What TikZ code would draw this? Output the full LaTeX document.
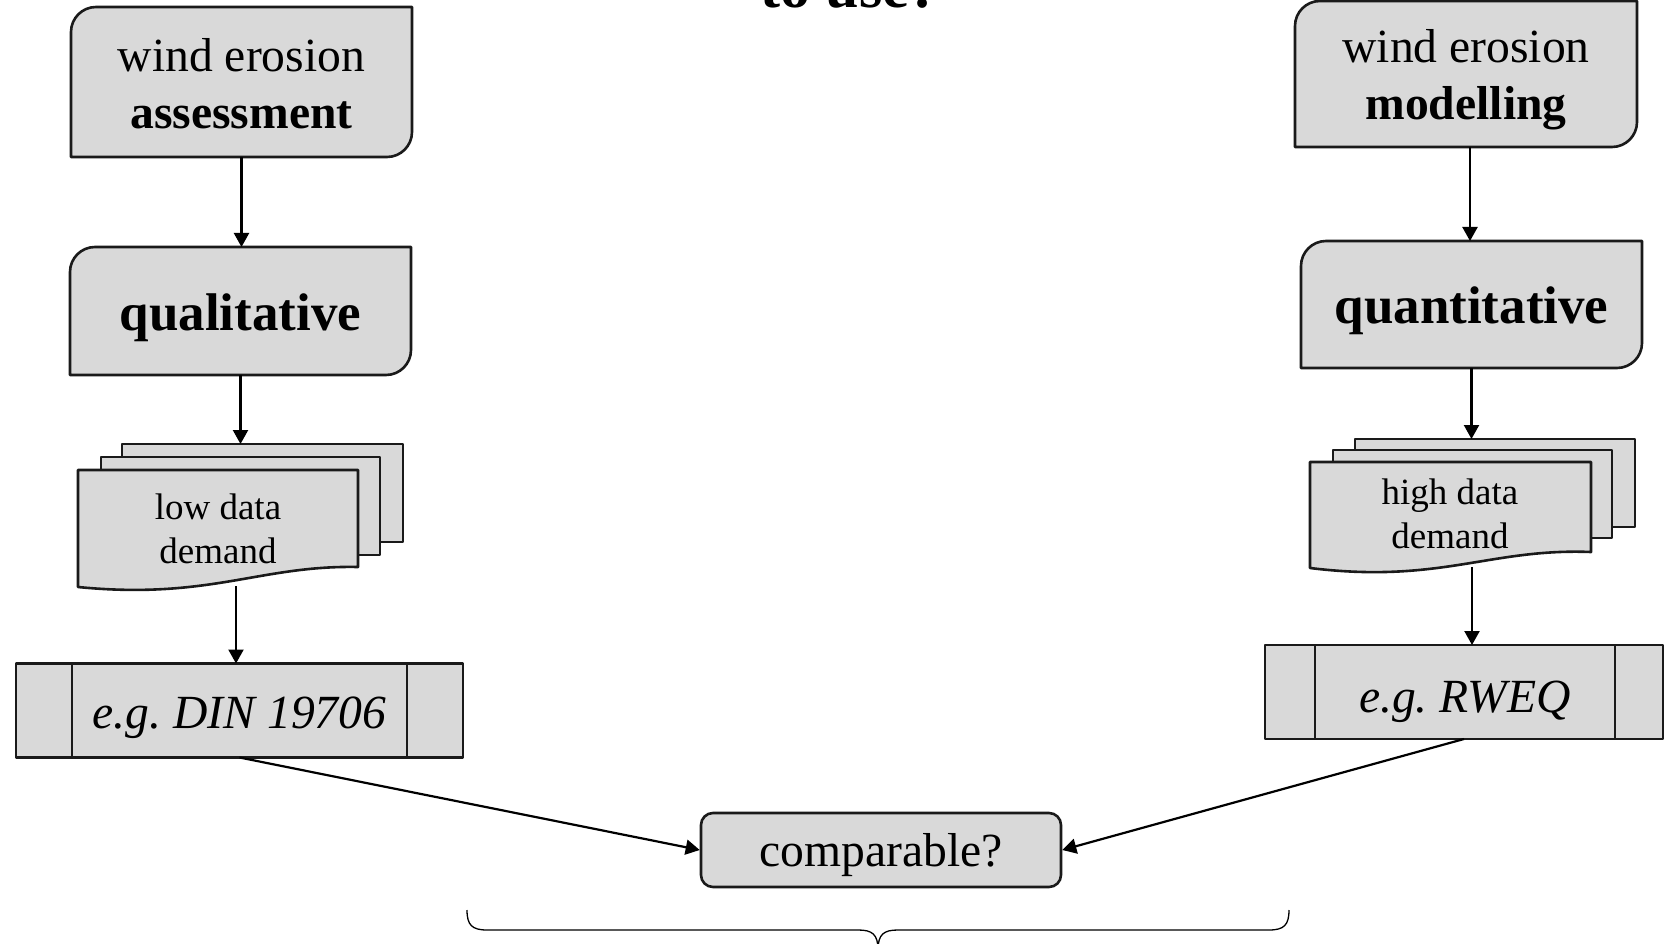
\documentclass[tikz,border=0pt]{standalone}
\usepackage{fontspec}
\setmainfont{Liberation Serif}
\usetikzlibrary{arrows.meta,calc}
\definecolor{boxgray}{HTML}{D9D9D9}
\definecolor{inkline}{HTML}{1A1A1A}
\newcommand\fs[2]{\fontsize{#1}{#2}\selectfont}
\newcommand\cardshape[2]{%
  \path[shp] (#1.south west) -- ($(#1.north west)+(0,#2)$)
    .. controls ($(#1.north west)+(0,0.448*#2)$) and ($(#1.north west)+(0.448*#2,0)$) .. ($(#1.north west)+(#2,0)$)
    -- (#1.north east) -- ($(#1.south east)+(0,-#2)$)
    .. controls ($(#1.south east)+(0,-0.448*#2)$) and ($(#1.south east)+(-0.448*#2,0)$) .. ($(#1.south east)+(-#2,0)$) -- cycle;}
\begin{document}
\begin{tikzpicture}[x=1pt,y=-1pt,
  shp/.style={draw=inkline, fill=boxgray, line width=2.6pt, line join=round},
  ghost/.style={inner sep=0pt, outer sep=0pt, draw=none},
  sheet/.style={shp, inner sep=0pt, outer sep=0pt},
  txt/.style={inner sep=0pt, align=center, text=black, font=\fs{47.6}{57}},
  bigtxt/.style={inner sep=0pt, text=black, anchor=base, font=\bfseries\fs{53}{60}},
  smalltxt/.style={inner sep=0pt, align=center, text=black, font=\fs{37}{44}},
  ittxt/.style={inner sep=0pt, text=black, anchor=base, font=\itshape\fs{47.6}{54}},
  arr/.style={draw=black, line width=2.2pt, -{Triangle[length=14pt,width=15pt]}},
  bracestyle/.style={draw=black, line width=1.3pt}
]
\useasboundingbox (0,0) rectangle (1665,944);
\clip (0,0) rectangle (1665,944);

% title (cut off at the top)
\node[anchor=base, inner sep=0pt, font=\bfseries\fs{60}{72}] (title) at (850,8) {to use?};

% ---------- left column ----------
\node[ghost, minimum width=341, minimum height=150] (aL) at (241.5,82) {};
\cardshape{aL}{25}
\node[txt] (aLt) at (241.5,84) {wind erosion\\\textbf{assessment}};

\node[ghost, minimum width=341, minimum height=128] (qL) at (240.5,311) {};
\cardshape{qL}{25}
\node[bigtxt] (qLt) at (240.5,330) {qualitative};

\node[sheet, minimum width=281, minimum height=98] (bL) at (262.5,493) {};
\node[sheet, minimum width=279, minimum height=98] (mL) at (240.5,506) {};
\path[shp] (78,470) -- (358,470) -- (358,567) .. controls (260,565) and (210,600) .. (78,587) -- cycle;
\node[smalltxt] (dLt) at (218,529) {low data\\demand};
\coordinate (dLb) at (236,586);

\node[sheet, minimum width=447, minimum height=94] (pL) at (239.5,710.5) {};
\draw[shp, fill=none] ([xshift=56]pL.north west) -- ([xshift=56]pL.south west);
\draw[shp, fill=none] ([xshift=-56]pL.north east) -- ([xshift=-56]pL.south east);
\node[ittxt] (pLt) at (239.5,728) {e.g.\ DIN 19706};

% ---------- right column ----------
\node[ghost, minimum width=342, minimum height=146] (aR) at (1466,74) {};
\cardshape{aR}{25}
\node[txt] (aRt) at (1466,80) {wind erosion\\\textbf{modelling}};

\node[ghost, minimum width=341, minimum height=127] (qR) at (1471.5,304.5) {};
\cardshape{qR}{25}
\node[bigtxt] (qRt) at (1471.5,323) {quantitative};

\node[sheet, minimum width=280, minimum height=88] (bR) at (1495,483) {};
\node[sheet, minimum width=279, minimum height=88] (mR) at (1472.5,494) {};
\path[shp] (1310,462) -- (1591,462) -- (1591,552) .. controls (1490,548) and (1440,584) .. (1310,568) -- cycle;
\node[smalltxt] (dRt) at (1450,514) {high data\\demand};
\coordinate (dRb) at (1472,567);

\node[sheet, minimum width=398, minimum height=94] (pR) at (1464,692) {};
\draw[shp, fill=none] ([xshift=50]pR.north west) -- ([xshift=50]pR.south west);
\draw[shp, fill=none] ([xshift=-48]pR.north east) -- ([xshift=-48]pR.south east);
\node[ittxt] (pRt) at (1465,712) {e.g.\ RWEQ};

% ---------- comparison ----------
\node[shp, rounded corners=12pt, minimum width=360, minimum height=74, inner sep=0pt] (comp) at (881,850) {};
\node[inner sep=0pt, anchor=base, font=\fs{47.6}{54}] (compt) at (881,866) {comparable?};

% ---------- connectors ----------
\draw[arr] (aL.south) -- (aL.south |- qL.north);
\draw[arr] (qL.south) -- (qL.south |- bL.north);
\draw[arr] (dLb) -- (dLb |- pL.north);
\draw[arr] (pL.south) -- (comp.west);

\draw[arr] ([xshift=4]aR.south) -- ([xshift=4]aR.south |- qR.north);
\draw[arr] (qR.south) -- (qR.south |- bR.north);
\draw[arr] (dRb) -- (dRb |- pR.north);
\draw[arr] (pR.south) -- (comp.east);

% ---------- brace ----------
\draw[bracestyle] (467,910) .. controls (467,925) and (472,930) .. (487,930) -- (858,930)
  .. controls (872,930) and (878,934) .. (878,950);
\draw[bracestyle] (878,950) .. controls (878,934) and (884,930) .. (898,930) -- (1269,930)
  .. controls (1284,930) and (1289,925) .. (1289,910);
\end{tikzpicture}
\end{document}
